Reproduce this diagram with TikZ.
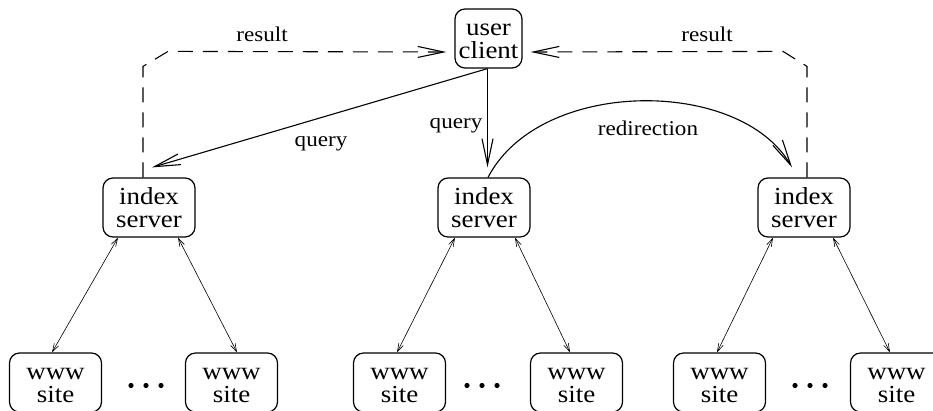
\documentclass[tikz,border=0pt]{standalone}
\usepackage{fontspec}
\newfontfamily\figfont[FakeStretch=1.1]{Liberation Serif}
\usetikzlibrary{arrows.meta}
\tikzset{
  box/.style={draw, line width=1.2pt, rounded corners=10pt, inner sep=0pt,
    minimum width=92pt, minimum height=59pt, align=center,
    font=\figfont\fontsize{24.5}{23}\selectfont},
  lbl/.style={anchor=base, inner sep=0pt, font=\figfont\fontsize{21}{21}\selectfont},
  flow/.style={line width=1.1pt, -{Straight Barb[length=26pt,width=11pt,line width=1.1pt]}},
  back/.style={flow, dash pattern=on 15pt off 10pt},
  link/.style={line width=0.6pt,
    {Straight Barb[length=8pt,width=5pt,line width=0.6pt]}-{Straight Barb[length=8pt,width=5pt,line width=0.6pt]}},
  dotmark/.style={fill=black}
}
\begin{document}
\begin{tikzpicture}[x=1pt, y=-1pt]
  \path[use as bounding box, clip] (0,0) rectangle (933,410);

  % client and index servers
  \node[box, minimum width=67pt] (cli) at (488.5,38.5) {\vphantom{d}user\\client};
  \node[box] (idxL) at (149,207.5) {\vphantom{d}index\\server};
  \node[box] (idxM) at (484,207.5) {\vphantom{d}index\\server};
  \node[box] (idxR) at (804,207.5) {\vphantom{d}index\\server};

  % www sites
  \node[box] (wL1) at (55.5,382.5) {\vphantom{d}www\\site};
  \node[box] (wL2) at (231.5,382.5) {\vphantom{d}www\\site};
  \node[box] (wM1) at (399.5,382.5) {\vphantom{d}www\\site};
  \node[box] (wM2) at (576.5,382.5) {\vphantom{d}www\\site};
  \node[box] (wR1) at (719.5,382.5) {\vphantom{d}www\\site};
  \node[box] (wR2) at (896.5,382.5) {\vphantom{d}www\\site};

  % ellipses between sites
  \foreach \cx in {146,482,810} {
    \fill[dotmark] (\cx-15,385.5) circle (2.6pt);
    \fill[dotmark] (\cx,385.5) circle (2.6pt);
    \fill[dotmark] (\cx+15,385.5) circle (2.6pt);
  }

  % queries
  \draw[flow] ([xshift=-1pt]cli.south) -- ([xshift=3pt,yshift=10pt]idxL.north);
  \draw[flow] ([xshift=-1pt]cli.south) -- ([xshift=-1pt,yshift=10pt]cli.south |- idxM.north);
  \draw[flow] ([xshift=4pt]idxM.north)
      .. controls +(52,-100) and +(-52,-90) .. ([xshift=-12pt,yshift=10pt]idxR.north);

  % results
  \draw[back] ([xshift=-6pt]idxL.north) -- ++(0,-111) -- ++(25,-15)
      -- ([xshift=-8pt,yshift=-13.5pt]cli.west);
  \draw[back] ([xshift=3pt]idxR.north) -- ++(0,-111) -- ++(-24,-15)
      -- ([xshift=8pt,yshift=-13.5pt]cli.east);

  % labels
  \node[lbl] (lres1) at (262,41) {result};
  \node[lbl] (lres2) at (707,41) {result};
  \node[lbl] (lq1) at (321,146) {query};
  \node[lbl] (lq2) at (456,128) {query};
  \node[lbl] (lred) at (648,135) {redirection};

  % index servers to sites
  \draw[link] ([xshift=-31pt]idxL.south) -- ([xshift=-3.5pt]wL1.north);
  \draw[link] ([xshift=29pt]idxL.south) -- ([xshift=5.5pt]wL2.north);
  \draw[link] ([xshift=-29pt]idxM.south) -- ([xshift=-2.5pt]wM1.north);
  \draw[link] ([xshift=31pt]idxM.south) -- ([xshift=-6.5pt]wM2.north);
  \draw[link] ([xshift=-31pt]idxR.south) -- ([xshift=-2.5pt]wR1.north);
  \draw[link] ([xshift=29pt]idxR.south) -- ([xshift=-6.5pt]wR2.north);
\end{tikzpicture}
\end{document}
